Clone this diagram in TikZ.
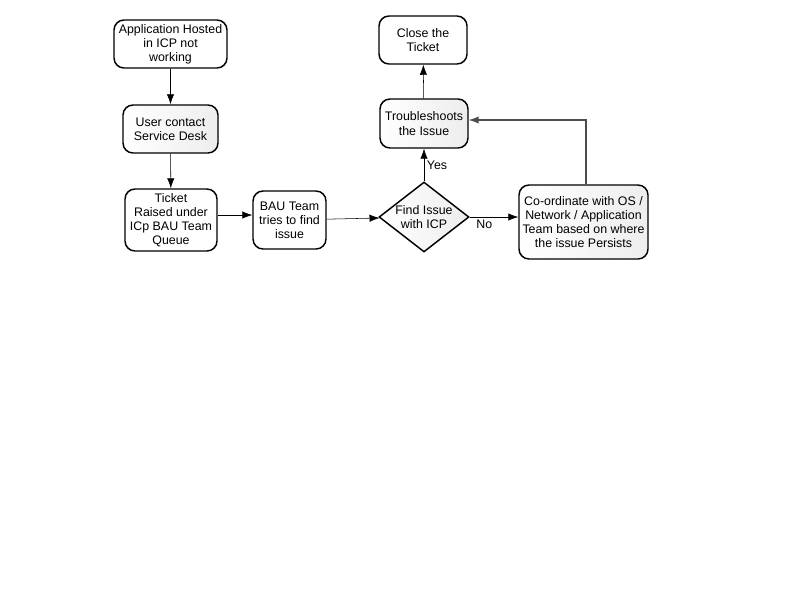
\documentclass[tikz,border=0pt]{standalone}
\usepackage{fontspec}
\setmainfont{Liberation Sans}
\usetikzlibrary{arrows, arrows.meta, shapes.geometric, positioning}
\tikzset{
    stepBox/.style={rectangle, rounded corners=7.5pt, draw, line width=1.1pt, fill=white, align=center, inner sep=1pt, font=\fontsize{9.3}{10.6}\selectfont},
    shadeBox/.style={stepBox, left color=white, right color=gray!14},
    decisionBox/.style={diamond, draw, line width=1.1pt, left color=white, right color=gray!14, align=center, inner sep=0pt, aspect=1.29, font=\fontsize{9.3}{10.6}\selectfont},
    flowEdge/.style={->, >={Latex[length=7.5pt, width=5.5pt]}, thin},
    backEdge/.style={->, >={Latex[length=7.5pt, width=5.5pt]}, line width=0.8pt, draw=gray!60!black},
    edgeLabel/.style={font=\fontsize{9.3}{10.6}\selectfont, inner sep=2pt},
}
\newcommand{\drawFlow}[3][flowEdge]{
    \draw[#1] (#2) -- (#3);
}

\begin{document}
\begin{tikzpicture}[x=0.75pt, y=-0.75pt]
        \useasboundingbox (0,0) rectangle (800,600);

        \node[stepBox, minimum width=84.75pt, minimum height=36pt] (app) at (170.5,44) {Application Hosted\\in ICP not\\working};
        \node[shadeBox, minimum width=71.25pt, minimum height=36pt] (usr) at (170.5,129) {User contact\\Service Desk};
        \node[stepBox, minimum width=69pt, minimum height=46.5pt] (tkt) at (171,220) {Ticket\\Raised under\\ICp BAU Team\\Queue};
        \node[stepBox, minimum width=54.75pt, minimum height=43.5pt] (bau) at (289.5,220) {BAU Team\\tries to find\\issue};
        \node[decisionBox, minimum width=67.5pt, minimum height=52.5pt] (fnd) at (424,217) {Find Issue\\with ICP};
        \node[shadeBox, minimum width=96.75pt, minimum height=55.5pt] (crd) at (583.5,222) {Co-ordinate with OS /\\Network / Application\\Team based on where\\the issue Persists};
        \node[shadeBox, minimum width=66pt, minimum height=36.75pt] (trb) at (424,123.5) {Troubleshoots\\the Issue};
        \node[stepBox, minimum width=66pt, minimum height=36pt] (cls) at (423,40) {Close the\\Ticket};
        \coordinate (bend) at (586,120);

        \drawFlow{app}{usr}
        \drawFlow{usr}{tkt}
        \draw[flowEdge] (tkt.east |- 0,215) -- (bau.west |- 0,215);
        \drawFlow{bau}{fnd}
        \draw[flowEdge] (fnd) -- node[edgeLabel, right] {Yes} (trb);
        \draw[flowEdge] (fnd) -- node[edgeLabel, below, pos=0.3] {No} (crd.west |- fnd);
        \drawFlow{trb}{cls}
        \draw[backEdge] (crd.north -| bend) -- (bend) -- (trb.east |- bend);

    \end{tikzpicture}
\end{document}
